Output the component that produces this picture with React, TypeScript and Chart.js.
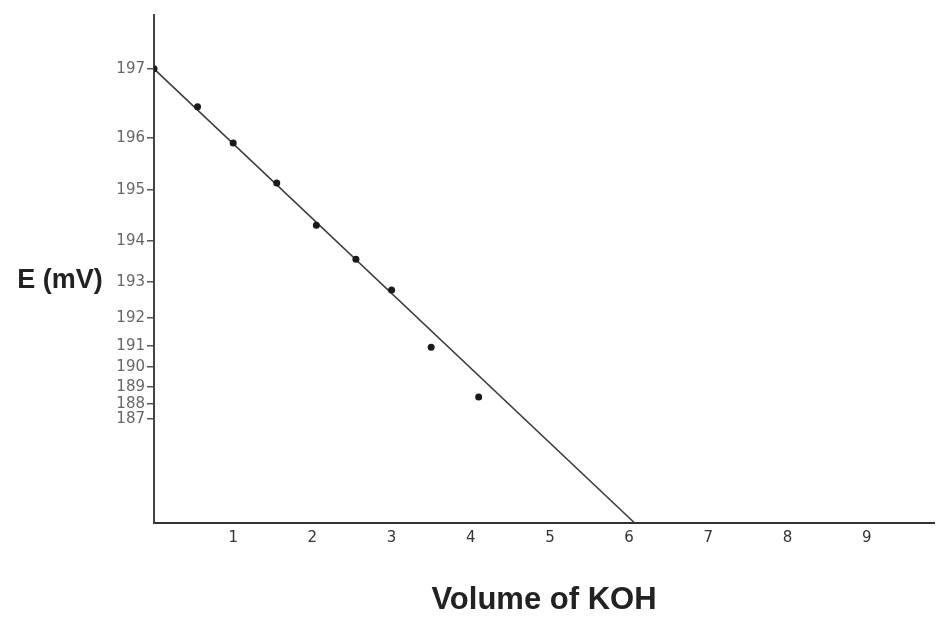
import React, { useEffect, useRef } from 'react';
import { Chart, registerables, LinearScale } from 'chart.js';

Chart.register(...registerables);

// ---- Data ----
const volumeKOH = [0, 0.55, 1.0, 1.55, 2.05, 2.55, 3.0, 3.5, 4.1];
const potentialMV = [197, 196.45, 195.9, 195.13, 194.31, 193.56, 192.78, 190.95, 188.41];
const fitLineX = [0, 6.07];
const fitLineY = [197, 181];
const xTickValues = [1, 2, 3, 4, 5, 6, 7, 8, 9];
const yTickValues = [187, 188, 189, 190, 191, 192, 193, 194, 195, 196, 197];

// ---- The hand-drawn E axis is not evenly spaced: value -> fraction of axis height ----
const axisKnotValues = [181, 187, 188, 189, 190, 191, 192, 193, 194, 195, 196, 197, 197.8];
const axisKnotFractions = [0, 0.205, 0.234, 0.268, 0.307, 0.348, 0.404, 0.474, 0.555, 0.656, 0.758, 0.894, 1];

function interp(v: number, xs: number[], ys: number[]): number {
  const n = xs.length;
  let i = 0;
  if (v <= xs[0]) i = 0;
  else if (v >= xs[n - 1]) i = n - 2;
  else {
    while (i < n - 2 && v > xs[i + 1]) i++;
  }
  const t = (v - xs[i]) / (xs[i + 1] - xs[i]);
  return ys[i] + t * (ys[i + 1] - ys[i]);
}

class HandDrawnScale extends LinearScale {
  static id = 'handdrawn';
  static defaults = {};
  getPixelForValue(value: any) {
    if (value === null || value === undefined || isNaN(value)) return NaN;
    return this.getPixelForDecimal(interp(+value, axisKnotValues, axisKnotFractions));
  }
  getValueForPixel(pixel: number) {
    return interp(this.getDecimalForPixel(pixel), axisKnotFractions, axisKnotValues);
  }
}
Chart.register(HandDrawnScale as any);

const yTitlePlugin = {
  id: 'yTitle',
  afterDraw(chart: any) {
    const { ctx } = chart;
    ctx.save();
    ctx.font = 'bold 27px "Liberation Sans", Arial, sans-serif';
    ctx.fillStyle = '#222';
    ctx.textAlign = 'center';
    ctx.textBaseline = 'middle';
    ctx.fillText('E (mV)', 60, 281);
    ctx.restore();
  },
};

export default function App() {
  const ref = useRef<HTMLCanvasElement>(null);
  useEffect(() => {
    if (!ref.current) return;
    const chart = new Chart(ref.current, {
      type: 'scatter',
      data: {
        datasets: [
          {
            label: 'Measured',
            data: volumeKOH.map((x, i) => ({ x, y: potentialMV[i] })),
            pointRadius: 3.5,
            pointBackgroundColor: '#1a1a1a',
            pointBorderWidth: 0,
            showLine: false,
          },
          {
            label: 'Fit',
            data: fitLineX.map((x, i) => ({ x, y: fitLineY[i] })),
            showLine: true,
            pointRadius: 0,
            borderColor: '#3a3a3a',
            borderWidth: 1.5,
          },
        ],
      },
      options: {
        animation: false,
        responsive: false,
        layout: { padding: { top: 15, left: 0, right: -4, bottom: 0 } },
        plugins: { legend: { display: false }, tooltip: { enabled: false } },
        scales: {
          x: {
            type: 'linear',
            min: 0,
            max: 9.85,
            afterBuildTicks: (s: any) => {
              s.ticks = xTickValues.map((v) => ({ value: v }));
            },
            afterFit: (s: any) => {
              s.height = 96;
            },
            grid: { display: false, drawTicks: false },
            border: { display: true, color: '#333', width: 2 },
            ticks: {
              autoSkip: false,
              maxRotation: 0,
              padding: 6,
              color: '#333',
              font: { size: 15, family: '"DejaVu Sans", sans-serif' },
              callback: (v: any) => String(v),
            },
            title: {
              display: true,
              text: 'Volume of KOH',
              color: '#222',
              padding: 0,
              font: { size: 31, weight: 'bold', family: '"Liberation Sans", Arial, sans-serif' },
            },
          },
          y: {
            type: 'handdrawn' as any,
            min: 181,
            max: 197.8,
            afterBuildTicks: (s: any) => {
              s.ticks = yTickValues.map((v) => ({ value: v }));
            },
            afterFit: (s: any) => {
              s.width = 154;
            },
            grid: { display: true, drawOnChartArea: false, drawTicks: true, tickLength: 7, color: '#555', lineWidth: 1.5 },
            border: { display: true, color: '#444', width: 2 },
            ticks: {
              autoSkip: false,
              padding: 2,
              color: '#666',
              font: { size: 15, family: '"DejaVu Sans", sans-serif' },
              callback: (v: any) => String(v),
            },
          },
        },
      },
      plugins: [yTitlePlugin],
    } as any);
    return () => chart.destroy();
  }, []);
  return (
    <div style={{ position: 'absolute', left: 0, top: 0, width: 938, height: 619, background: '#fff' }}>
      <canvas ref={ref} width={938} height={619} style={{ display: 'block' }} />
    </div>
  );
}
